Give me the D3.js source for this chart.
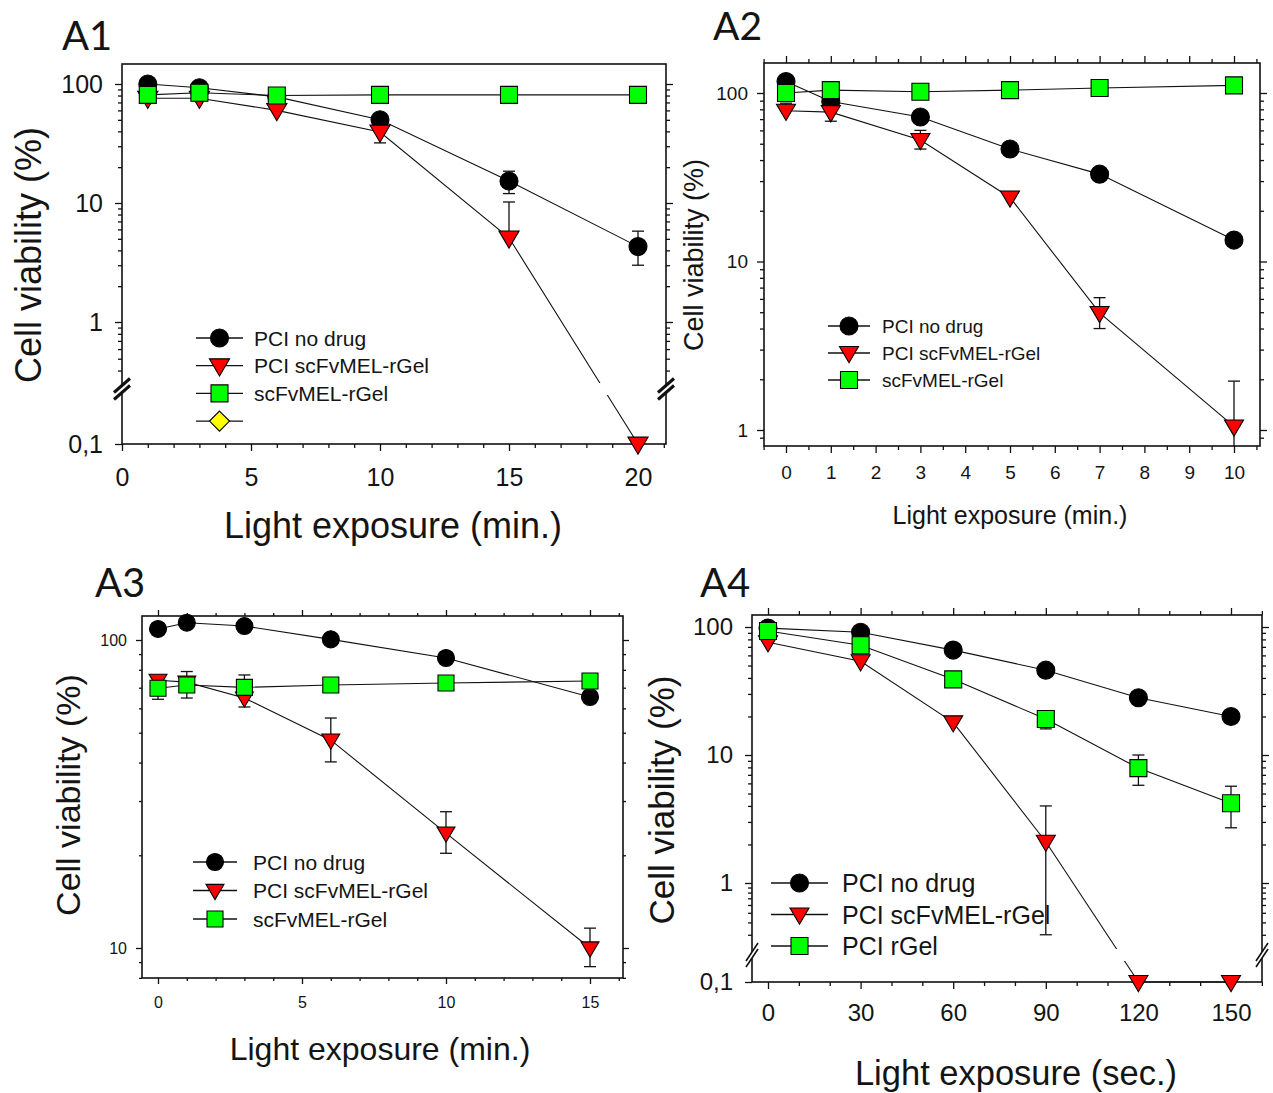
<!DOCTYPE html>
<html>
<head>
<meta charset="utf-8">
<script src="https://cdn.jsdelivr.net/npm/d3@7"></script>
<style>
  body { margin: 0; background: #fff; }
  svg text { font-family: "Liberation Sans", Arial, sans-serif; fill: #141414; }
  .panel-label { font-family: Lato, "Open Sans", sans-serif; }
</style>
</head>
<body>
<script>
// ---- data ----
const seriesNames = ["PCI no drug", "PCI scFvMEL-rGel", "scFvMEL-rGel"];
const a4Names = ["PCI no drug", "PCI scFvMEL-rGel", "PCI rGel"];

// A1
const a1Time = [1, 3, 6, 10, 15, 20];
const a1NoDrug = [100, 93, 78, 50, 15.3, 4.3];
const a1NoDrugErr = [null, null, null, null, [12, 18.5], [3.0, 5.8]];
const a1Conj = [76, 76, 60, 39.5, 5.1, 0.1];
const a1ConjErr = [null, null, null, [32, null], [null, 10.2], null];
const a1Free = [81, 84.5, 80, 81, 81, 81];
const a1FreeErr = [null, null, null, null, null, null];

// A2
const a2Time = [0, 1, 3, 5, 7, 10];
const a2NoDrug = [117, 89, 72, 46.5, 33, 13.4];
const a2NoDrugErr = [null, null, null, null, null, null];
const a2Conj = [78.5, 77, 52.6, 24, 4.95, 1.05];
const a2ConjErr = [[null, 87], [68, null], [46.5, 60], null, [4.0, 6.1], [0.5, 1.95]];
const a2Free = [100, 104, 101.8, 104, 107, 111];
const a2FreeErr = [null, null, null, null, null, null];

// A3
const a3Time = [0, 1, 3, 6, 10, 15];
const a3NoDrug = [108.6, 113.8, 111, 100.5, 87.4, 65.3];
const a3NoDrugErr = [null, null, null, null, null, null];
const a3Conj = [74, 73, 64.8, 47.3, 23.6, 10.0];
const a3ConjErr = [[null, 76], [null, 79], [60.6, null], [40.2, 55.8], [20.3, 27.7], [8.7, 11.6]];
const a3Free = [69.7, 71.4, 70.2, 71.4, 72.5, 73.6];
const a3FreeErr = [[64.2, 74.7], [64.8, null], [null, 77], null, null, null];

// A4
const a4Time = [0, 30, 60, 90, 120, 150];
const a4NoDrug = [98, 91, 66, 46, 28, 20];
const a4NoDrugErr = [null, null, null, null, null, null];
const a4Conj = [76, 54, 18, 2.1, 0.1, 0.1];
const a4ConjErr = [null, null, null, [0.3, 4.0], null, null];
const a4Free = [93, 72, 39, 19.1, 7.9, 4.2];
const a4FreeErr = [null, null, null, [16, null], [5.8, 10], [2.7, 5.7]];

// tick values
const a1XTicks = [0, 5, 10, 15, 20];
const a2XTicks = d3.range(0, 11);
const a3XTicks = [0, 5, 10, 15];
const a4XTicks = [0, 30, 60, 90, 120, 150];
const a1YTicks = [0.1, 1, 10, 100];
const a2YTicks = [1, 10, 100];
const a3YTicks = [10, 100];
const a4YTicks = [0.1, 1, 10, 100];

const width = 1273, height = 1093;

const svg = d3.select("body").append("svg")
    .attr("width", width)
    .attr("height", height);

const styles = {
  circle: { shape: "circle", fill: "#000" },
  tri: { shape: "tri", fill: "#ff0000" },
  square: { shape: "square", fill: "#00ff00" },
  diamond: { shape: "diamond", fill: "#ffff00" }
};

const fmtY = d => d < 1 ? String(d).replace(".", ",") : String(d);

function markerPath(shape, s) {
  if (shape === "circle") return d3.symbol(d3.symbolCircle, Math.PI * (s / 2) * (s / 2))();
  if (shape === "square") return `M${-s / 2},${-s / 2}h${s}v${s}h${-s}Z`;
  if (shape === "tri") {
    const w = s * 1.12, h = s * 0.95;
    return `M${-w / 2},${-h * 0.4}L${w / 2},${-h * 0.4}L0,${h * 0.6}Z`;
  }
  return `M0,${-s / 2}L${s / 2},0L0,${s / 2}L${-s / 2},0Z`;
}

// minor log ticks inside the frame, skipping the broken part
function logMinor(y, top, bottom, breakY) {
  const out = [];
  for (let k = -1; k <= 2; k++) {
    for (let m = 2; m <= 9; m++) {
      const v = m * Math.pow(10, k), py = y(v);
      if (py < top || py > bottom) continue;
      if (breakY && py > breakY - 9) continue;
      out.push(v);
    }
  }
  return out;
}

function drawPanel(p) {
  const { l, t, r, b } = p.box;
  const g = svg.append("g");
  const id = p.label;

  // clip paths
  const defs = g.append("defs");
  defs.append("clipPath").attr("id", "frame" + id)
    .append("rect").attr("x", l).attr("y", t).attr("width", r - l).attr("height", b - t);
  const lineClip = defs.append("clipPath").attr("id", "lines" + id);
  if (p.breakY) {
    lineClip.append("rect").attr("x", l - 20).attr("y", t - 20)
      .attr("width", r - l + 40).attr("height", p.breakY - 6 - (t - 20));
    lineClip.append("rect").attr("x", l - 20).attr("y", p.breakY + 6)
      .attr("width", r - l + 40).attr("height", b + 20 - (p.breakY + 6));
  } else {
    lineClip.append("rect").attr("x", l - 20).attr("y", t - 20)
      .attr("width", r - l + 40).attr("height", b - t + 40);
  }

  // axes
  const tick = p.tick, minorTick = Math.round(tick * 0.55);
  const axisFont = a => a.attr("font-size", p.tickFont)
    .attr("font-family", '"Liberation Sans", Arial, sans-serif');
  const strip = a => a.select(".domain").remove();

  const xMinor = p.xMinor.filter(v => p.xMajor.indexOf(v) < 0);
  const yMinor = logMinor(p.y, t, b, p.breakY).filter(v => p.yMajor.indexOf(v) < 0);

  g.append("g").attr("transform", `translate(0,${b})`)
    .call(d3.axisBottom(p.x).tickValues(p.xMajor).tickSize(tick).tickPadding(p.xPad).tickFormat(d3.format("d")))
    .call(axisFont).call(strip);
  g.append("g").attr("transform", `translate(0,${b})`)
    .call(d3.axisBottom(p.x).tickValues(xMinor).tickSize(minorTick).tickFormat(""))
    .call(strip);
  if (p.topTicks) {
    g.append("g").attr("transform", `translate(0,${t})`)
      .call(d3.axisTop(p.x).tickValues(p.xMajor).tickSize(tick).tickFormat("")).call(strip);
    g.append("g").attr("transform", `translate(0,${t})`)
      .call(d3.axisTop(p.x).tickValues(xMinor).tickSize(minorTick).tickFormat("")).call(strip);
  }
  g.append("g").attr("transform", `translate(${l},0)`)
    .call(d3.axisLeft(p.y).tickValues(p.yMajor).tickSize(tick).tickPadding(p.yPad).tickFormat(fmtY))
    .call(axisFont).call(strip);
  g.append("g").attr("transform", `translate(${l},0)`)
    .call(d3.axisLeft(p.y).tickValues(yMinor).tickSize(minorTick).tickFormat("")).call(strip);
  g.append("g").attr("transform", `translate(${r},0)`)
    .call(d3.axisRight(p.y).tickValues(p.yMajor.filter(v => p.y(v) >= t && p.y(v) < b)).tickSize(tick).tickFormat("")).call(strip);
  g.append("g").attr("transform", `translate(${r},0)`)
    .call(d3.axisRight(p.y).tickValues(yMinor).tickSize(minorTick).tickFormat("")).call(strip);
  g.selectAll(".tick line").attr("stroke", "#111").attr("stroke-width", 1.3);
  g.selectAll(".tick text").attr("fill", "#141414");

  // frame
  g.append("rect").attr("x", l).attr("y", t).attr("width", r - l).attr("height", b - t)
    .attr("fill", "none").attr("stroke", "#111").attr("stroke-width", 1.6);

  // axis breaks
  if (p.breakY) {
    [l, r].forEach(cx => {
      const bw = p.breakW, bh = p.breakH, gap = p.breakGap;
      const bg = g.append("g").attr("transform", `translate(${cx},${p.breakY})`);
      bg.append("path")
        .attr("d", `M${-bw / 2},${bh / 2 - gap / 2}L${bw / 2},${-bh / 2 - gap / 2}L${bw / 2},${-bh / 2 + gap / 2}L${-bw / 2},${bh / 2 + gap / 2}Z`)
        .attr("fill", "#fff");
      [-gap / 2, gap / 2].forEach(o => {
        bg.append("line")
          .attr("x1", -bw / 2).attr("y1", bh / 2 + o)
          .attr("x2", bw / 2).attr("y2", -bh / 2 + o)
          .attr("stroke", "#111").attr("stroke-width", p.breakStroke);
      });
    });
  }

  // data lines
  const line = d3.line().x(d => p.x(d.x)).y(d => p.y(d.y));
  const rows = p.series.map(s => s.values.map((v, i) => ({ x: p.time[i], y: v, err: s.err[i] })));
  g.append("g").attr("clip-path", `url(#lines${id})`)
    .selectAll("path").data(rows).join("path")
    .attr("d", line).attr("fill", "none").attr("stroke", "#111").attr("stroke-width", 1.1);

  // error bars
  const eg = g.append("g").attr("clip-path", `url(#frame${id})`)
    .attr("stroke", "#111").attr("stroke-width", 1.3);
  rows.forEach(row => row.forEach(d => {
    if (!d.err) return;
    const cx = p.x(d.x);
    [d.err[0], d.err[1]].forEach(e => {
      if (e == null) return;
      eg.append("line").attr("x1", cx).attr("x2", cx).attr("y1", p.y(d.y)).attr("y2", p.y(e));
      eg.append("line").attr("x1", cx - p.cap).attr("x2", cx + p.cap).attr("y1", p.y(e)).attr("y2", p.y(e));
    });
  }));

  // markers
  p.series.forEach((s, si) => {
    g.append("g").selectAll("path").data(rows[si]).join("path")
      .attr("transform", d => `translate(${p.x(d.x)},${p.y(d.y)})`)
      .attr("d", markerPath(s.style.shape, p.mark[s.style.shape]))
      .attr("fill", s.style.fill).attr("stroke", "#000").attr("stroke-width", 1.1);
  });

  // legend
  const lg = g.append("g");
  p.legend.items.forEach((it, i) => {
    const y = p.legend.y + i * p.legend.dy;
    lg.append("line").attr("x1", p.legend.x).attr("x2", p.legend.x + p.legend.w)
      .attr("y1", y).attr("y2", y).attr("stroke", "#111").attr("stroke-width", 1.3);
    lg.append("path").attr("transform", `translate(${p.legend.x + p.legend.w / 2},${y})`)
      .attr("d", markerPath(it.style.shape, p.mark[it.style.shape]))
      .attr("fill", it.style.fill).attr("stroke", "#000").attr("stroke-width", 1.1);
    lg.append("text").attr("x", p.legend.tx).attr("y", y).attr("dy", "0.36em")
      .attr("font-size", p.legend.font).text(it.name);
  });

  // titles
  g.append("text").attr("transform", `translate(${p.yTitle[0]},${p.yTitle[1]}) rotate(-90)`)
    .attr("text-anchor", "middle").attr("dy", "0.36em")
    .attr("font-size", p.yTitle[2]).text("Cell viability (%)");
  g.append("text").attr("x", p.xTitle[0]).attr("y", p.xTitle[1])
    .attr("text-anchor", "middle").attr("dy", "0.36em")
    .attr("font-size", p.xTitle[2]).text(p.xTitleText);
  svg.append("text").attr("class", "panel-label")
    .attr("x", p.labelPos[0]).attr("y", p.labelPos[1])
    .attr("font-size", p.labelPos[2]).text(p.label);
}

const makeSeries = (names, vals, errs) => [
  { name: names[0], values: vals[0], err: errs[0], style: styles.circle },
  { name: names[1], values: vals[1], err: errs[1], style: styles.tri },
  { name: names[2], values: vals[2], err: errs[2], style: styles.square }
];

// A1
const a1Series = makeSeries(seriesNames, [a1NoDrug, a1Conj, a1Free], [a1NoDrugErr, a1ConjErr, a1FreeErr]);
drawPanel({
  label: "A1", labelPos: [62, 50, 40],
  box: { l: 122, t: 64, r: 666, b: 444 },
  x: d3.scaleLinear().domain([0, 20]).range([122, 638]),
  y: d3.scaleLog().domain([0.1, 1, 100]).range([444, 322, 84]),
  time: a1Time, series: a1Series,
  xMajor: a1XTicks, xMinor: d3.range(1, 22), yMajor: a1YTicks,
  topTicks: false, tick: 7, tickFont: 25, xPad: 17, yPad: 12,
  breakY: 389, breakW: 16, breakH: 14, breakGap: 7, breakStroke: 3,
  mark: { circle: 18, tri: 18, square: 17, diamond: 20 }, cap: 6,
  legend: { x: 196, w: 47, tx: 254, y: 338, dy: 27.7, font: 21,
    items: a1Series.concat([{ name: "", style: styles.diamond }]) },
  yTitle: [28, 255, 36], xTitle: [393, 525, 36], xTitleText: "Light exposure (min.)"
});

// A2
const a2Series = makeSeries(seriesNames, [a2NoDrug, a2Conj, a2Free], [a2NoDrugErr, a2ConjErr, a2FreeErr]);
drawPanel({
  label: "A2", labelPos: [713, 40, 39],
  box: { l: 764, t: 63, r: 1260, b: 446 },
  x: d3.scaleLinear().domain([0, 10]).range([786, 1234]),
  y: d3.scaleLog().domain([1, 100]).range([430, 93]),
  time: a2Time, series: a2Series,
  xMajor: a2XTicks, xMinor: d3.range(-0.5, 11, 0.5), yMajor: a2YTicks,
  topTicks: true, tick: 7, tickFont: 19, xPad: 13, yPad: 9,
  mark: { circle: 18, tri: 17, square: 17, diamond: 20 }, cap: 6,
  legend: { x: 828, w: 42, tx: 882, y: 326, dy: 27, font: 19, items: a2Series },
  yTitle: [693, 255, 27], xTitle: [1010, 515, 25], xTitleText: "Light exposure (min.)"
});

// A3
const a3Series = makeSeries(seriesNames, [a3NoDrug, a3Conj, a3Free], [a3NoDrugErr, a3ConjErr, a3FreeErr]);
drawPanel({
  label: "A3", labelPos: [95, 597, 40],
  box: { l: 142, t: 616, r: 623, b: 978 },
  x: d3.scaleLinear().domain([0, 15]).range([158, 590]),
  y: d3.scaleLog().domain([10, 100]).range([948, 640]),
  time: a3Time, series: a3Series,
  xMajor: a3XTicks, xMinor: d3.range(0, 17), yMajor: a3YTicks,
  topTicks: true, tick: 6, tickFont: 16, xPad: 13, yPad: 9,
  mark: { circle: 17, tri: 16, square: 16, diamond: 20 }, cap: 6,
  legend: { x: 193, w: 44, tx: 253, y: 862, dy: 28.5, font: 21, items: a3Series },
  yTitle: [68, 795, 34], xTitle: [380, 1048, 32], xTitleText: "Light exposure (min.)"
});

// A4
const a4Series = makeSeries(a4Names, [a4NoDrug, a4Conj, a4Free], [a4NoDrugErr, a4ConjErr, a4FreeErr]);
drawPanel({
  label: "A4", labelPos: [700, 597, 40],
  box: { l: 752, t: 615, r: 1262, b: 982 },
  x: d3.scaleLinear().domain([0, 150]).range([768, 1231]),
  y: d3.scaleLog().domain([0.1, 1, 100]).range([982, 883, 627]),
  time: a4Time, series: a4Series,
  xMajor: a4XTicks, xMinor: d3.range(0, 161, 10), yMajor: a4YTicks,
  topTicks: true, tick: 7, tickFont: 24, xPad: 15, yPad: 12,
  breakY: 955, breakW: 12, breakH: 18, breakGap: 6, breakStroke: 1.6,
  mark: { circle: 18, tri: 17, square: 17, diamond: 20 }, cap: 6,
  legend: { x: 771, w: 57, tx: 842, y: 883, dy: 31.5, font: 25, items: a4Series },
  yTitle: [661, 800, 35], xTitle: [1016, 1073, 34.5], xTitleText: "Light exposure (sec.)"
});
</script>
</body>
</html>
